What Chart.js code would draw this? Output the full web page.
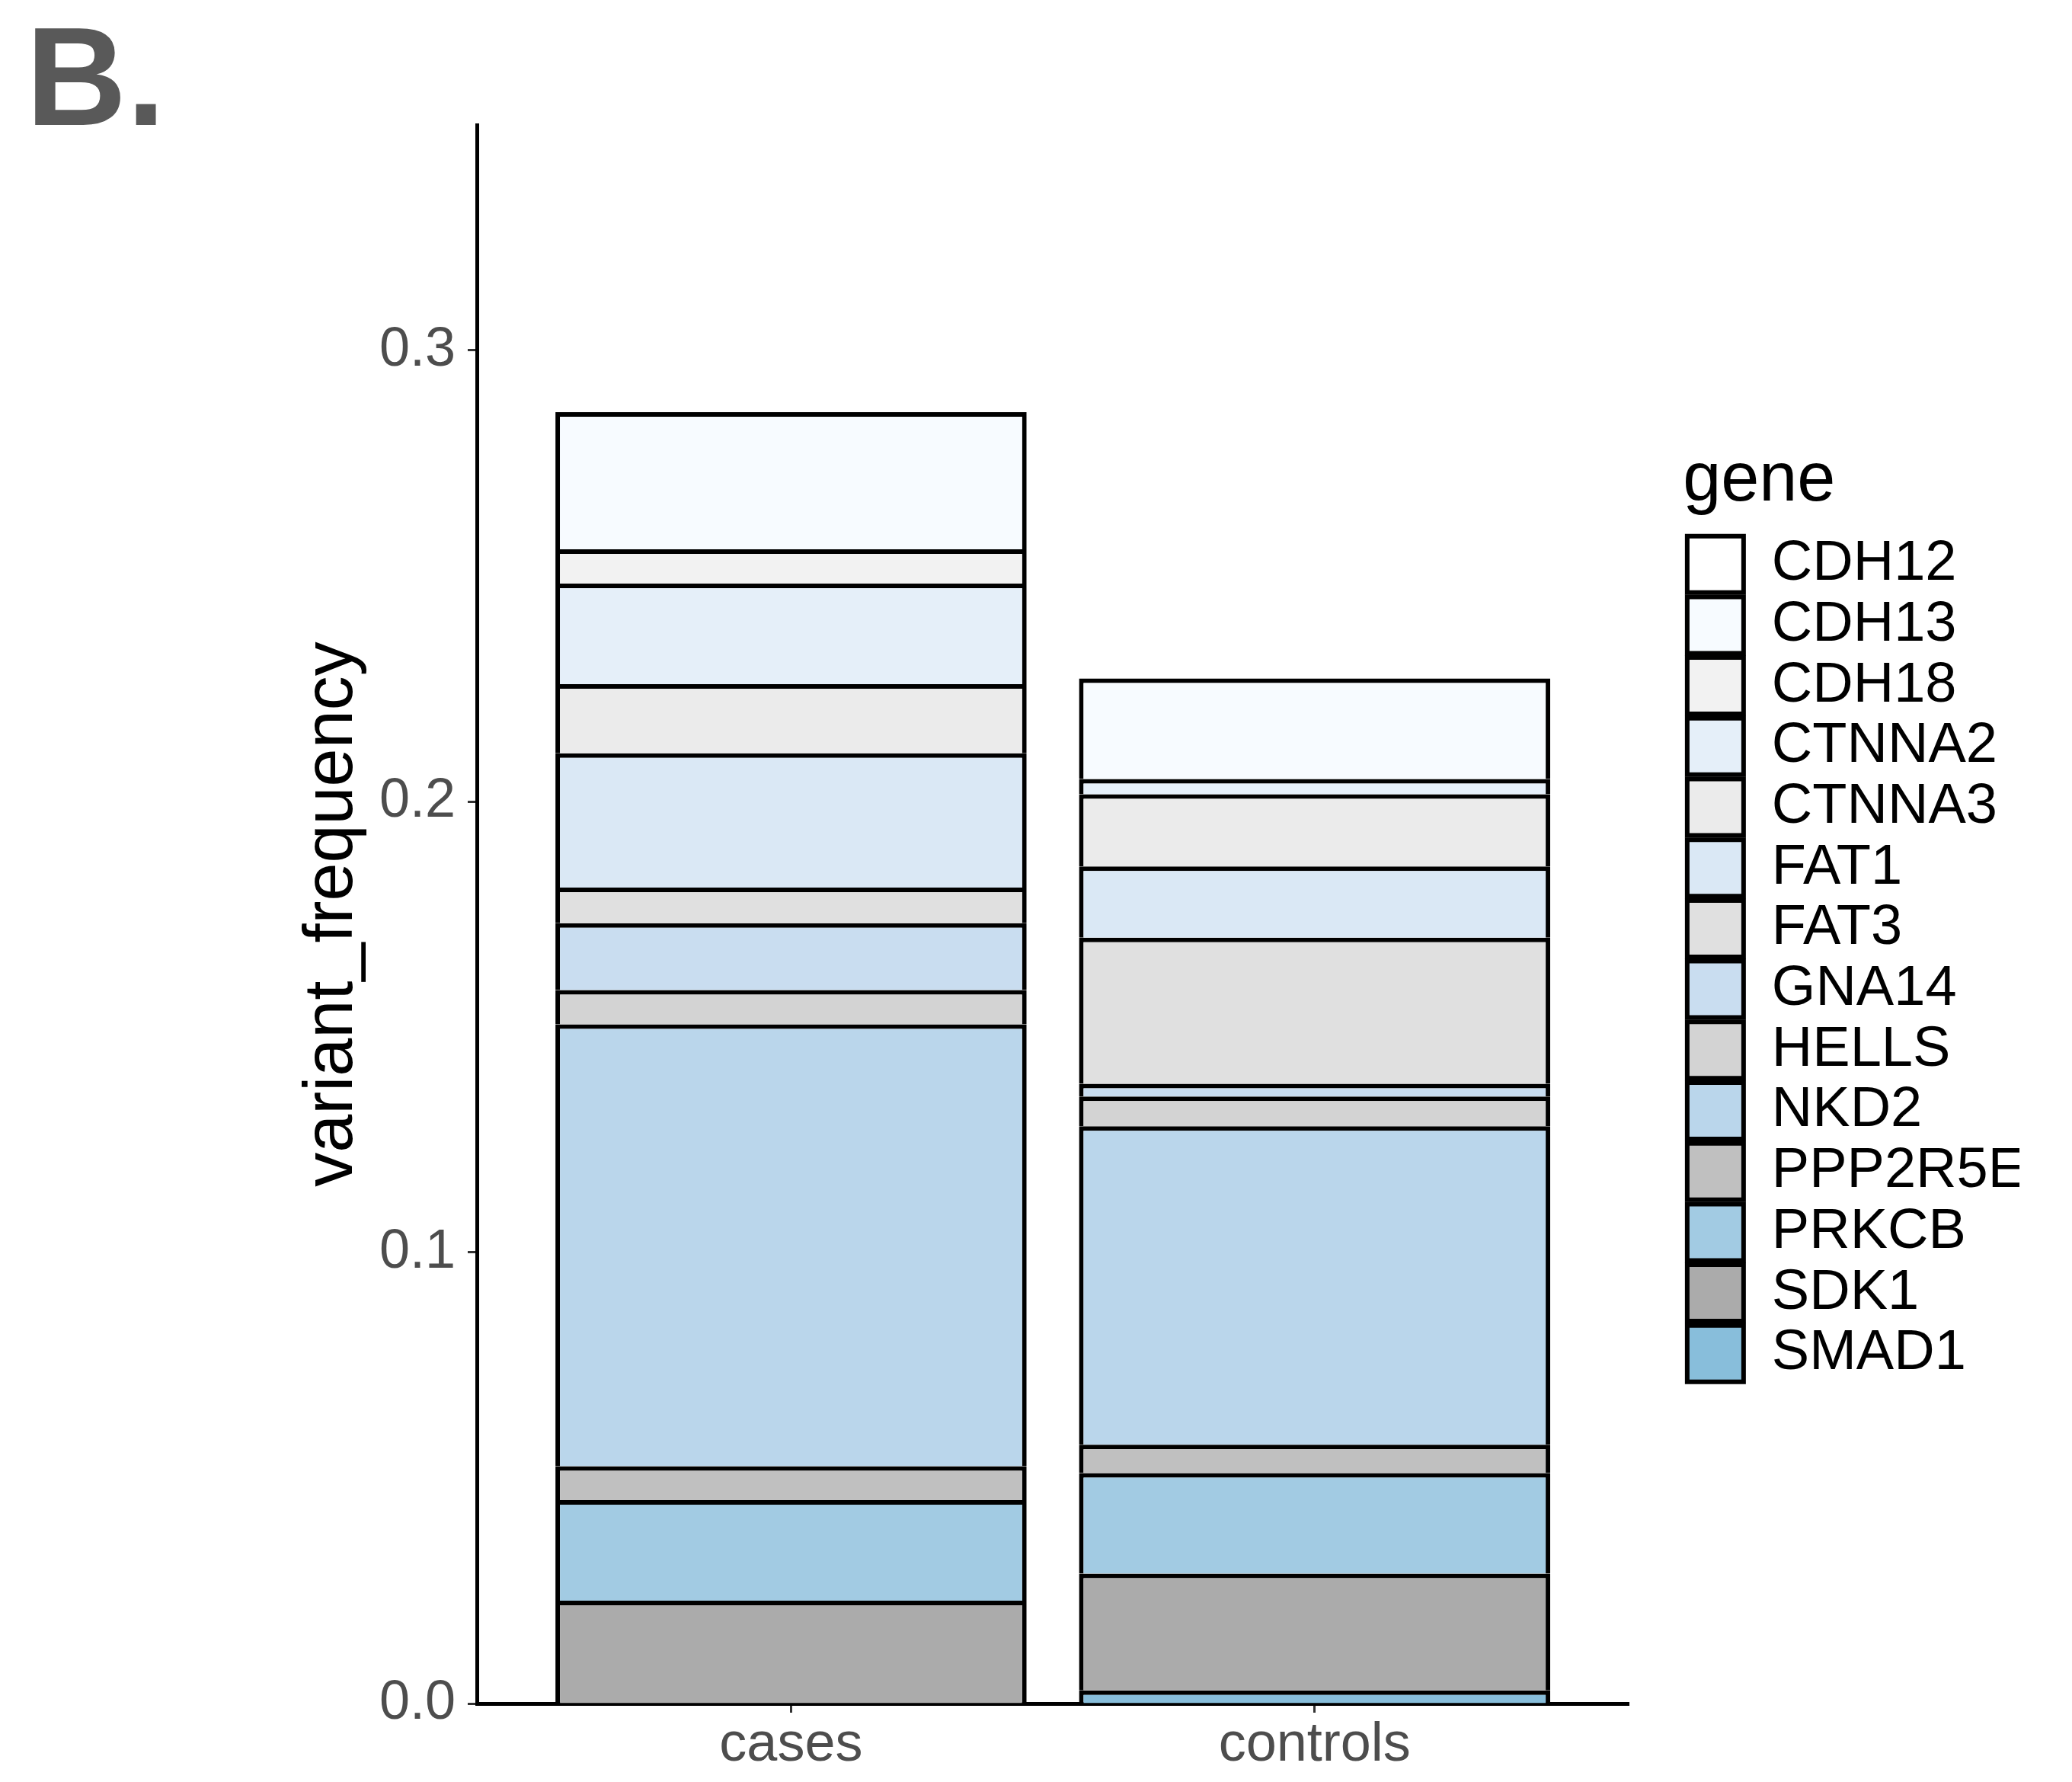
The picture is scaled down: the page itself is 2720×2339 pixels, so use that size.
<!DOCTYPE html>
<html>
<head>
<meta charset="utf-8">
<script src="https://cdn.jsdelivr.net/npm/chart.js@4.4.1/dist/chart.umd.min.js"></script>
<style>
  html, body { margin: 0; padding: 0; background: #fff; }
  #wrap { position: relative; width: 2720px; height: 2339px; }
  #panel { position: absolute; left: 34px; top: 9px; font: bold 183px 'Liberation Sans', Arial, sans-serif; line-height: 1; color: #595959; }
  canvas { position: absolute; left: 0; top: 0; }
</style>
</head>
<body>
<div id="wrap">
  <canvas id="chart" width="2720" height="2339"></canvas>
  <div id="panel">B.</div>
</div>
<script>
// values (variant frequency per gene)
var categories = ['cases', 'controls'];
var genes = ['CDH12', 'CDH13', 'CDH18', 'CTNNA2', 'CTNNA3', 'FAT1', 'FAT3',
             'GNA14', 'HELLS', 'NKD2', 'PPP2R5E', 'PRKCB', 'SDK1', 'SMAD1'];
var geneColors = ['#ffffff', '#f7fbff', '#f2f2f2', '#e5eff9', '#ebebeb', '#dae8f5', '#e0e0e0',
                  '#c9ddf0', '#d3d3d3', '#bad6eb', '#c0c0c0', '#a2cbe3', '#ababab', '#88bedb'];
var casesFreq    = [0, 0.0304, 0.0076, 0.0223, 0.0153, 0.0298, 0.0079,
                    0.0148, 0.0076, 0.0980, 0.0075, 0.0223, 0.0228, 0];
var controlsFreq = [0, 0.0223, 0, 0.0034, 0.0160, 0.0158, 0.0324,
                    0.0028, 0.0066, 0.0706, 0.0063, 0.0223, 0.0259, 0.0029];
var yTicks = [0, 0.1, 0.2, 0.3];

var fontFam = "'Liberation Sans', Arial, Helvetica, sans-serif";
Chart.defaults.font.family = fontFam;

// ggplot stacks the first level on top, so build datasets bottom-up
var datasets = [];
for (var i = genes.length - 1; i >= 0; i--) {
    datasets.push({
        label: genes[i],
        data: [{x: 1, y: casesFreq[i]}, {x: 2, y: controlsFreq[i]}],
        backgroundColor: geneColors[i],
        borderColor: '#000000',
        borderWidth: 6,
        borderSkipped: 'start',
        categoryPercentage: 1.0,
        barPercentage: 0.9
    });
}

new Chart(document.getElementById('chart'), {
    type: 'bar',
    data: { datasets: datasets },
    options: {
        responsive: false,
        animation: false,
        layout: { padding: { top: 164, left: 0, right: 69, bottom: 0 } },
        plugins: {
            tooltip: { enabled: false },
            legend: {
                position: 'right',
                align: 'start',
                reverse: true,
                title: {
                    display: true,
                    text: 'gene',
                    position: 'start',
                    color: '#000',
                    font: { size: 90, lineHeight: 1.2 },
                    padding: { top: 423, bottom: 3 }
                },
                labels: {
                    color: '#000',
                    font: { size: 74 },
                    boxWidth: 74,
                    boxHeight: 74,
                    padding: 5.7
                }
            }
        },
        scales: {
            x: {
                type: 'linear',
                stacked: true,
                offset: false,
                min: 0.4,
                max: 2.6,
                afterBuildTicks: function (s) { s.ticks = [{value: 1}, {value: 2}]; },
                afterFit: function (s) { s.height = 103; },
                grid: { display: true, offset: false, drawOnChartArea: false, drawTicks: true,
                        tickLength: 12, tickWidth: 3, tickColor: '#333' },
                border: { display: true, color: '#000', width: 5 },
                ticks: {
                    color: '#4d4d4d',
                    font: { size: 72 },
                    padding: 0,
                    maxRotation: 0,
                    callback: function (v) { return categories[v - 1]; }
                }
            },
            y: {
                stacked: true,
                min: 0,
                max: 0.35,
                afterBuildTicks: function (s) { s.ticks = yTicks.map(function (v) { return {value: v}; }); },
                afterFit: function (s) { s.width = 626; },
                grid: { display: true, drawOnChartArea: false, drawTicks: true,
                        tickLength: 12, tickWidth: 3, tickColor: '#333' },
                border: { display: true, color: '#000', width: 5 },
                ticks: {
                    color: '#4d4d4d',
                    font: { size: 72 },
                    padding: 16,
                    callback: function (v) { return Number(v).toFixed(1); }
                },
                title: {
                    display: true,
                    text: 'variant_frequency',
                    color: '#000',
                    font: { size: 90, lineHeight: 1.2 },
                    padding: { top: 383, bottom: 0 }
                }
            },
            gap: {
                type: 'linear',
                position: 'right',
                display: true,
                afterFit: function (s) { s.width = 71; },
                grid: { display: false },
                border: { display: false },
                ticks: { display: false }
            }
        }
    }
});
</script>
</body>
</html>
